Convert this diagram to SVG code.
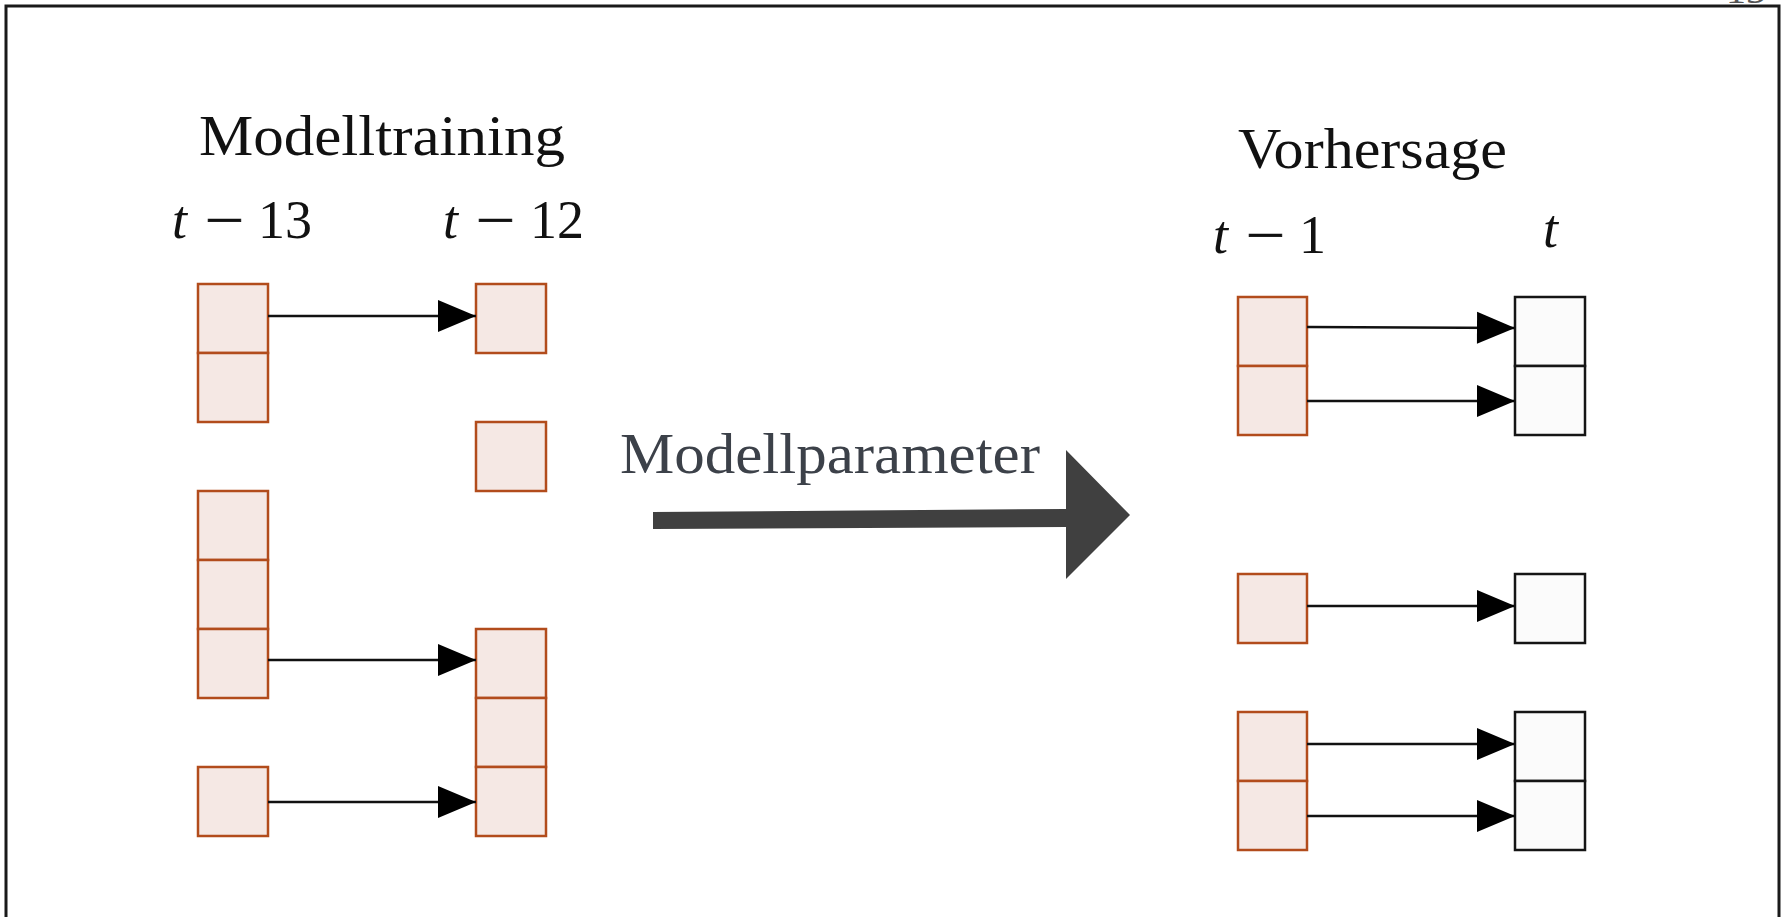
<svg xmlns="http://www.w3.org/2000/svg" width="1786" height="917" viewBox="0 0 1786 917">
  <style>
    .title { font-family: "Liberation Serif", "Times New Roman", serif; font-size: 56px; fill: #111; }
    .math { font-family: "Liberation Serif", "Times New Roman", serif; font-size: 54px; fill: #111; }
    .var { font-style: italic; }
    .op { stroke: #111; stroke-width: 0.6; }
    .cell { fill: #f5e8e4; stroke: #b24c1c; stroke-width: 2.5; }
    .out { fill: #fbfbfb; stroke: #151515; stroke-width: 2.5; }
    .link { stroke: #111; stroke-width: 2.5; fill: none; marker-end: url(#head); }
  </style>
  <defs>
    <marker id="head" markerUnits="userSpaceOnUse" markerWidth="40" markerHeight="34" viewBox="0 0 40 34" refX="39" refY="17" orient="auto">
      <path d="M1,1 L39,17 L1,33 Z" fill="#000"/>
    </marker>
  </defs>
  <rect width="1786" height="917" fill="#fff"/>

  <!-- page frame -->
  <path d="M6,930 L6,6 L1779,6 L1779,930" fill="none" stroke="#1a1a1a" stroke-width="3"/>
  <text x="1726" y="3" font-family="Liberation Serif, serif" font-size="40" fill="#555">13</text>

  <!-- headings -->
  <text class="title" x="199" y="155" textLength="366" lengthAdjust="spacingAndGlyphs">Modelltraining</text>
  <text class="title" x="1238" y="168" textLength="269" lengthAdjust="spacingAndGlyphs">Vorhersage</text>

  <!-- time step labels (minus sign widened to a math-style bar) -->
  <g id="label-t13">
    <text class="math var" x="172" y="238">t</text>
    <text class="math op" transform="translate(207,238) scale(1.3,1)" x="-2">−</text>
    <text class="math" x="258" y="238">13</text>
  </g>
  <g id="label-t12">
    <text class="math var" x="443" y="238">t</text>
    <text class="math op" transform="translate(478,238) scale(1.3,1)" x="-2">−</text>
    <text class="math" x="530" y="238">12</text>
  </g>
  <g id="label-t1">
    <text class="math var" x="1213" y="253">t</text>
    <text class="math op" transform="translate(1248,253) scale(1.3,1)" x="-2">−</text>
    <text class="math" x="1299" y="253">1</text>
  </g>
  <g id="label-t">
    <text class="math var" x="1543" y="247">t</text>
  </g>

  <!-- training window t-13 -->
  <g id="train-a">
    <rect class="cell" x="198" y="284" width="70" height="69"/>
    <rect class="cell" x="198" y="353" width="70" height="69"/>
  </g>
  <g id="train-b">
    <rect class="cell" x="198" y="491" width="70" height="69"/>
    <rect class="cell" x="198" y="560" width="70" height="69"/>
    <rect class="cell" x="198" y="629" width="70" height="69"/>
  </g>
  <g id="train-c">
    <rect class="cell" x="198" y="767" width="70" height="69"/>
  </g>

  <!-- training window t-12 -->
  <g id="target-a">
    <rect class="cell" x="476" y="284" width="70" height="69"/>
  </g>
  <g id="target-b">
    <rect class="cell" x="476" y="422" width="70" height="69"/>
  </g>
  <g id="target-c">
    <rect class="cell" x="476" y="629" width="70" height="69"/>
    <rect class="cell" x="476" y="698" width="70" height="69"/>
    <rect class="cell" x="476" y="767" width="70" height="69"/>
  </g>

  <!-- prediction inputs t-1 -->
  <g id="input-a">
    <rect class="cell" x="1238" y="297" width="69" height="69"/>
    <rect class="cell" x="1238" y="366" width="69" height="69"/>
  </g>
  <g id="input-b">
    <rect class="cell" x="1238" y="574" width="69" height="69"/>
  </g>
  <g id="input-c">
    <rect class="cell" x="1238" y="712" width="69" height="69"/>
    <rect class="cell" x="1238" y="781" width="69" height="69"/>
  </g>

  <!-- prediction outputs t -->
  <g id="output-a">
    <rect class="out" x="1515" y="297" width="70" height="69"/>
    <rect class="out" x="1515" y="366" width="70" height="69"/>
  </g>
  <g id="output-b">
    <rect class="out" x="1515" y="574" width="70" height="69"/>
  </g>
  <g id="output-c">
    <rect class="out" x="1515" y="712" width="70" height="69"/>
    <rect class="out" x="1515" y="781" width="70" height="69"/>
  </g>

  <!-- transfer of model parameters -->
  <g id="transfer">
    <polygon points="653,512 1066,509 1066,450 1130,515 1066,579 1066,527 653,529" fill="#404040"/>
    <text x="620" y="473" font-family="Liberation Serif, serif" font-size="58" fill="#3c4149" textLength="420" lengthAdjust="spacingAndGlyphs">Modellparameter</text>
  </g>

  <!-- connectors -->
  <g id="connectors">
    <line class="link" x1="268" y1="316" x2="476" y2="316"/>
    <line class="link" x1="268" y1="660" x2="476" y2="660"/>
    <line class="link" x1="268" y1="802" x2="476" y2="802"/>
    <line class="link" x1="1307" y1="327" x2="1515" y2="328" stroke="#555"/>
    <line class="link" x1="1307" y1="401" x2="1515" y2="401"/>
    <line class="link" x1="1307" y1="606" x2="1515" y2="606"/>
    <line class="link" x1="1307" y1="744" x2="1515" y2="744"/>
    <line class="link" x1="1307" y1="816" x2="1515" y2="816"/>
  </g>
</svg>
